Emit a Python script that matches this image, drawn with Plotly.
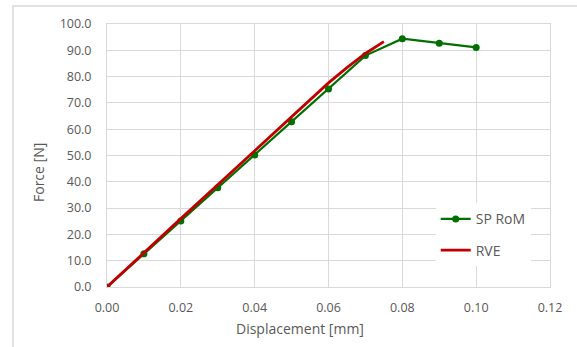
import plotly.graph_objects as go

sp_x = [0.00, 0.01, 0.02, 0.03, 0.04, 0.05, 0.06, 0.07, 0.08, 0.09, 0.10]
sp_y = [0.0, 12.6, 25.1, 37.7, 50.2, 62.8, 75.3, 88.0, 94.4, 92.7, 91.1]
rve_x = [0.00, 0.01, 0.02, 0.03, 0.04, 0.05, 0.06, 0.065, 0.07, 0.075]
rve_y = [0.0, 13.1, 26.0, 38.9, 51.8, 64.6, 77.6, 83.4, 88.8, 93.3]

font = "Open Sans, Segoe UI, sans-serif"
grey = "#595959"

fig = go.Figure()
fig.add_trace(go.Scatter(x=sp_x, y=sp_y, mode="lines+markers", name="SP RoM",
                         legendgroup="a",
                         line=dict(color="#007000", width=2.2),
                         marker=dict(color="#007000", size=7)))
fig.add_trace(go.Scatter(x=rve_x, y=rve_y, mode="lines", name="RVE",
                         legendgroup="b",
                         line=dict(color="#c00000", width=2.8)))

fig.update_layout(
    width=577, height=347,
    margin=dict(l=107, r=27, t=24, b=60),
    paper_bgcolor="white", plot_bgcolor="white",
    font=dict(family=font, color=grey, size=12.5),
    showlegend=True,
    legend=dict(x=0.742, y=0.318, xanchor="left", yanchor="top",
                bgcolor="white", font=dict(size=14, color=grey),
                tracegroupgap=10, itemwidth=30),
    xaxis=dict(range=[0, 0.12], dtick=0.02, tickformat=".2f",
               showgrid=True, gridcolor="#d9d9d9", gridwidth=1,
               showline=True, linecolor="#d9d9d9", mirror=True,
               zeroline=False, ticks="", ticklabelstandoff=9),
    yaxis=dict(range=[0, 100], dtick=10, tickformat=".1f",
               showgrid=True, gridcolor="#d9d9d9", gridwidth=1,
               showline=True, linecolor="#d9d9d9", mirror=True,
               zeroline=False, ticks="", ticklabelstandoff=12),
    annotations=[
        dict(text="Displacement [mm]", xref="paper", yref="paper",
             x=(300 - 107) / 443, y=-(328 - 287) / 263,
             xanchor="center", yanchor="middle", showarrow=False,
             font=dict(size=14, color=grey)),
        dict(text="Force [N]", xref="paper", yref="paper",
             x=-(107 - 38) / 443, y=(287 - 173) / 263,
             xanchor="center", yanchor="middle", showarrow=False,
             textangle=-90, font=dict(size=14, color=grey)),
    ],
    shapes=[dict(type="rect", xref="paper", yref="paper",
                 x0=-0.2122, x1=1.3, y0=-0.4, y1=1.068,
                 line=dict(color="#d9d9d9", width=1.5), layer="below")],
)

fig.write_html("out.html")
